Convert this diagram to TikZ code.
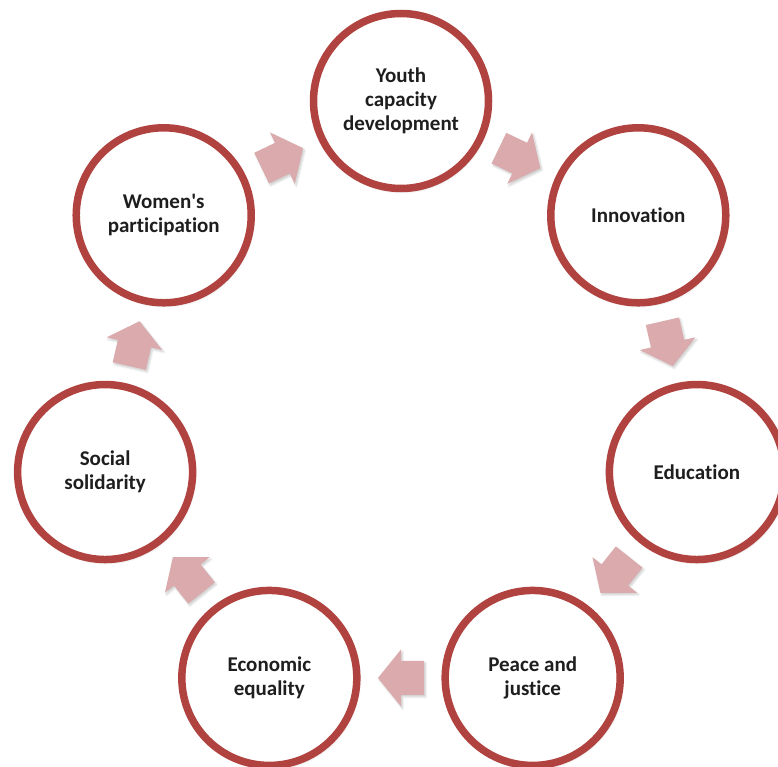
\documentclass[tikz,border=0pt]{standalone}
\usepackage{fontspec}
\setmainfont{Carlito}[Ligatures={NoCommon}]
\usetikzlibrary{shadows.blur}

\definecolor{ringred}{RGB}{176,66,63}
\definecolor{arrowpink}{RGB}{218,170,172}
\definecolor{labelink}{RGB}{30,30,30}

\tikzset{
  stage/.style={circle, draw=ringred, line width=7.5pt, fill=white,
    minimum size=175pt, inner sep=0pt, align=center,
    font=\fontsize{21pt}{24pt}\selectfont\bfseries, text=labelink,
    blur shadow={shadow xshift=1.5pt, shadow yshift=-2.5pt,
      shadow opacity=22, shadow blur steps=6, shadow blur radius=3pt}},
  pics/blockarrow/.style={code={
    \fill[arrowpink, blur shadow={shadow xshift=1.5pt, shadow yshift=-2pt,
        shadow opacity=20, shadow blur steps=5, shadow blur radius=2pt}]
      (-23pt,-17pt) -- (0pt,-17pt) -- (0pt,-28.5pt) -- (23pt,0pt)
      -- (0pt,28.5pt) -- (0pt,17pt) -- (-23pt,17pt) -- cycle;
  }},
  cyclestep/.style={pos=0.5, sloped, allow upside down},
}

\begin{document}
\begin{tikzpicture}[x=1pt, y=-1pt]
  \useasboundingbox (0,0) rectangle (778,767);

  % ring of seven stages around (401,404.5), ring radius 303.5
  \coordinate (hub) at (401,404.5);
  \foreach \nm/\ang/\txt in {
      youth/90/{Youth\\capacity\\development},
      innov/38.571/{Innovation},
      educ/-12.857/{Education},
      peace/-64.286/{Peace and\\justice},
      econ/-115.714/{Economic\\equality},
      social/-167.143/{Social\\solidarity},
      women/141.429/{Women\textquotesingle s\\participation}}
    \path (hub) ++({303.5*cos(\ang)},{-303.5*sin(\ang)}) node[stage] (\nm) {\txt};

  % clockwise block arrows between neighbouring stages
  \foreach \a/\b in {youth/innov, innov/educ, educ/peace, peace/econ,
                     econ/social, social/women, women/youth}
    \path (\a.center) -- (\b.center) pic[cyclestep] {blockarrow};
\end{tikzpicture}
\end{document}
